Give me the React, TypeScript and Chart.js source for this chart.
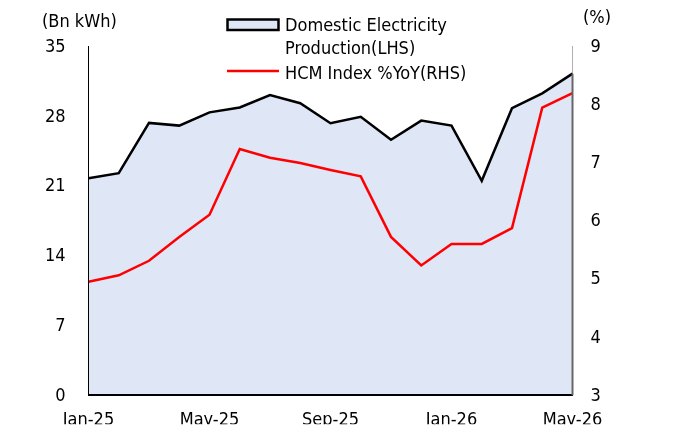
import React, { useEffect, useRef } from 'react';
import { Chart, registerables } from 'chart.js';

Chart.register(...registerables);

const months = ['Jan-25', 'Feb-25', 'Mar-25', 'Apr-25', 'May-25', 'Jun-25', 'Jul-25', 'Aug-25', 'Sep-25', 'Oct-25', 'Nov-25', 'Dec-25', 'Jan-26', 'Feb-26', 'Mar-26', 'Apr-26', 'May-26'];
const production = [21.75, 22.25, 27.29, 27.02, 28.35, 28.84, 30.09, 29.27, 27.26, 27.91, 25.61, 27.52, 27.02, 21.49, 28.77, 30.26, 32.23];
const hcmYoY = [4.95, 5.06, 5.31, 5.72, 6.1, 7.23, 7.08, 6.99, 6.87, 6.76, 5.72, 5.23, 5.6, 5.6, 5.87, 7.94, 8.19];
const productionLegend = ['Domestic Electricity', 'Production(LHS)'];
const hcmLegend = 'HCM Index %YoY(RHS)';
const leftTitle = '(Bn kWh)';
const rightTitle = '(%)';

const FONT = "'DejaVu Sans Condensed', 'DejaVu Sans', sans-serif";
const FILL = '#DFE6F6';

const overlayPlugin = {
  id: 'overlay',
  afterDraw(chart: any) {
    const ctx = chart.ctx;
    const area = chart.chartArea;
    ctx.save();
    // right edge of area polygon
    const meta = chart.getDatasetMeta(1);
    const last = meta.data[meta.data.length - 1];
    ctx.strokeStyle = '#666';
    ctx.lineWidth = 2;
    ctx.beginPath();
    ctx.moveTo(area.right, last.y);
    ctx.lineTo(area.right, area.bottom);
    ctx.stroke();

    ctx.font = `18px ${FONT}`;
    ctx.textAlign = 'left';
    ctx.textBaseline = 'alphabetic';
    ctx.fillStyle = '#000';
    ctx.fillText(leftTitle, 42, 27);
    ctx.fillText(rightTitle, 583, 22.5);

    // legend
    ctx.fillStyle = FILL;
    ctx.fillRect(227.5, 19.5, 51, 10.5);
    ctx.strokeStyle = '#000';
    ctx.lineWidth = 2.5;
    ctx.strokeRect(227.5, 19.5, 51, 10.5);
    ctx.fillStyle = '#000';
    ctx.fillText(productionLegend[0], 285, 30.5);
    ctx.fillText(productionLegend[1], 285, 53.5);
    ctx.strokeStyle = '#FF0000';
    ctx.lineWidth = 2.5;
    ctx.beginPath();
    ctx.moveTo(227, 71);
    ctx.lineTo(279, 71);
    ctx.stroke();
    ctx.fillText(hcmLegend, 285, 78.5);
    ctx.restore();
  },
};

export default function App() {
  const ref = useRef<HTMLCanvasElement>(null);
  useEffect(() => {
    document.body.style.margin = '0';
    const tickFont = { family: FONT, size: 18 };
    const chart = new Chart(ref.current as HTMLCanvasElement, {
      type: 'line',
      data: {
        labels: months,
        datasets: [
          {
            label: hcmLegend,
            data: hcmYoY,
            yAxisID: 'y1',
            borderColor: '#FF0000',
            borderWidth: 2.5,
            pointRadius: 0,
            fill: false,
            tension: 0,
            order: 0,
          },
          {
            label: productionLegend.join(' '),
            data: production,
            yAxisID: 'y',
            borderColor: '#000000',
            borderWidth: 2.5,
            backgroundColor: FILL,
            fill: 'origin',
            pointRadius: 0,
            tension: 0,
            order: 1,
          },
        ],
      },
      options: {
        animation: false,
        responsive: false,
        layout: { padding: { top: 46, left: 0, right: 0, bottom: 0 } },
        plugins: { legend: { display: false }, tooltip: { enabled: false } },
        scales: {
          x: {
            grid: { display: false, drawTicks: false },
            border: { display: true, color: '#000', width: 2, z: 1 },
            ticks: {
              autoSkip: false,
              maxRotation: 0,
              minRotation: 0,
              padding: 14,
              color: '#000',
              font: tickFont,
              callback: (_v: any, i: number) => (i % 4 === 0 ? months[i] : ''),
            },
            afterFit: (s: any) => {
              s.height = 29;
            },
          },
          y: {
            position: 'left',
            min: 0,
            max: 35,
            grid: { display: false, drawTicks: false },
            border: { display: true, color: '#000', width: 1, z: 1 },
            ticks: { stepSize: 7, padding: 23, labelOffset: 1, color: '#000', font: tickFont },
            afterFit: (s: any) => {
              s.width = 88.5;
            },
          },
          y1: {
            position: 'right',
            min: 3,
            max: 9,
            grid: { display: false, drawTicks: false },
            border: { display: true, color: '#B0B0B0', width: 1 },
            ticks: { stepSize: 1, padding: 18, labelOffset: 1, color: '#000', font: tickFont },
            afterFit: (s: any) => {
              s.width = 102.5;
            },
          },
        },
      },
      plugins: [overlayPlugin],
    } as any);
    return () => chart.destroy();
  }, []);
  return <canvas ref={ref} width={675} height={429} style={{ display: 'block', width: 675, height: 429 }} />;
}
